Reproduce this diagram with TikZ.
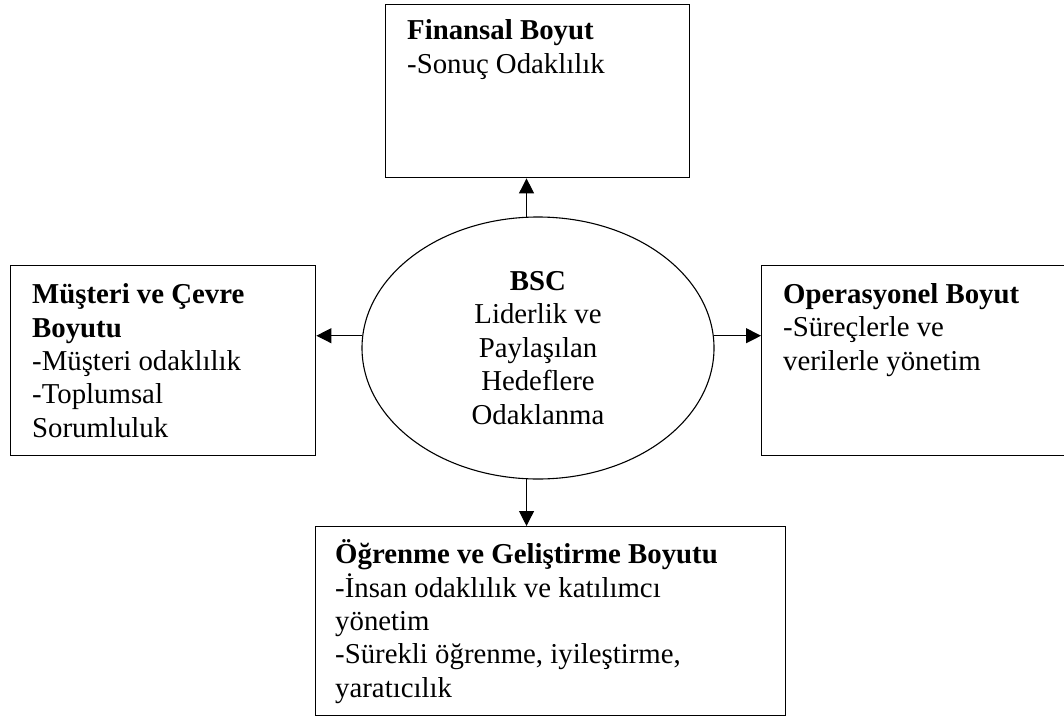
\documentclass[tikz,border=0pt]{standalone}
\usepackage{fontspec}
\setmainfont{Liberation Serif}
\usetikzlibrary{arrows.meta,shapes.geometric,calc}
\begin{document}
\begin{tikzpicture}[x=1pt,y=-1pt,
  box/.style={draw, line width=1.4pt, rectangle, inner sep=0pt, anchor=north west},
  % base west sits on the baseline of the last line
  txt/.style={anchor=base west, align=left, inner sep=0pt, font=\fontsize{28.8}{33.3}\selectfont},
  arr/.style={line width=1.1pt, -{Triangle[length=15pt,width=15pt]}},
]
\useasboundingbox (0,0) rectangle (1064,717);

% the four dimension boxes
\node[box, minimum width=304pt, minimum height=173pt] (fin) at (385,4) {};
\node[box, minimum width=305pt, minimum height=190pt] (mus) at (10,265) {};
\node[box, minimum width=312pt, minimum height=190pt] (ops) at (761,265) {};
\node[box, minimum width=470pt, minimum height=189pt] (ogr) at (315,526) {};

% box texts
\node[txt] (fintxt) at (407,73) {\textbf{Finansal Boyut}\\-Sonuç Odaklılık};
\node[txt] (mustxt) at (32,437) {\textbf{Müşteri ve Çevre}\\\textbf{Boyutu}\\-Müşteri odaklılık\\-Toplumsal\\Sorumluluk};
\node[txt] (opstxt) at (783,370) {\textbf{Operasyonel Boyut}\\-Süreçlerle ve\\verilerle yönetim};
\node[txt] (ogrtxt) at (335,697) {\textbf{Öğrenme ve Geliştirme Boyutu}\\-İnsan odaklılık ve katılımcı\\yönetim\\-Sürekli öğrenme, iyileştirme,\\yaratıcılık};

% central ellipse
\node[draw, ellipse, line width=1.1pt, minimum width=352pt, minimum height=262pt,
      inner sep=0pt, align=center, font=\fontsize{28.8}{33.5}\selectfont]
  (bsc) at (538,348) {\textbf{BSC}\\Liderlik ve\\Paylaşılan\\Hedeflere\\Odaklanma};

% connectors
\draw[arr] (bsc.95) -- (bsc.95 |- fin.south);
\draw[arr] (bsc.265) -- (bsc.265 |- ogr.north);
\draw[arr] (bsc.176) -- (bsc.176 -| mus.east);
\draw[arr] (bsc.4) -- (bsc.4 -| ops.west);
\end{tikzpicture}
\end{document}
